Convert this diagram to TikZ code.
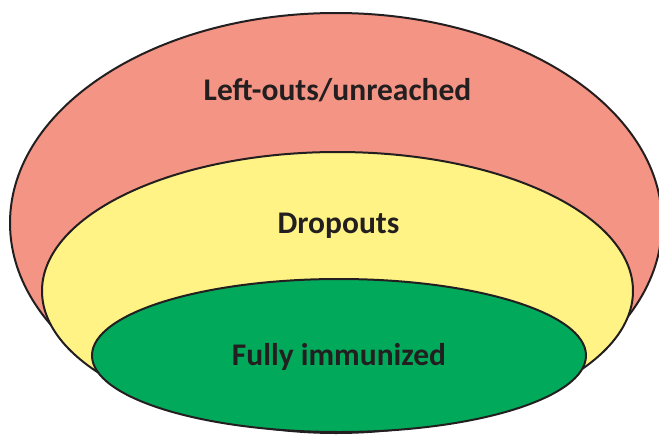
\documentclass[tikz,border=0pt]{standalone}
\usepackage{fontspec}
\setmainfont{Carlito}
\usetikzlibrary{shapes.geometric}
\definecolor{salmon}{RGB}{244,148,132}
\definecolor{paleyellow}{RGB}{255,243,133}
\definecolor{immgreen}{RGB}{0,170,90}
\definecolor{edge}{RGB}{35,31,32}
\tikzset{
  ring/.style={ellipse, draw=edge, line width=2pt, inner sep=0pt},
  lbl/.style={font=\fontsize{31.5}{36}\selectfont\bfseries, text=edge, anchor=base, inner sep=0pt}
}
\begin{document}
\begin{tikzpicture}[x=1pt,y=-1pt]
\useasboundingbox (0,0) rectangle (659,434);
\clip (0,0) rectangle (659,434);
\node[ring, fill=salmon, minimum width=652pt, minimum height=420pt] (outer) at (336,223) {};
\node[ring, fill=paleyellow, minimum width=591pt, minimum height=278pt] (mid) at (337.5,291) {};
\node[ring, fill=immgreen, minimum width=494pt, minimum height=153pt] (inner) at (339,355.5) {};
\node[lbl] (t1) at (337.5,100) {Left-outs/unreached};
\node[lbl] (t2) at (338.5,233) {Dropouts};
\node[lbl] (t3) at (339,365) {Fully immunized};
\end{tikzpicture}
\end{document}
